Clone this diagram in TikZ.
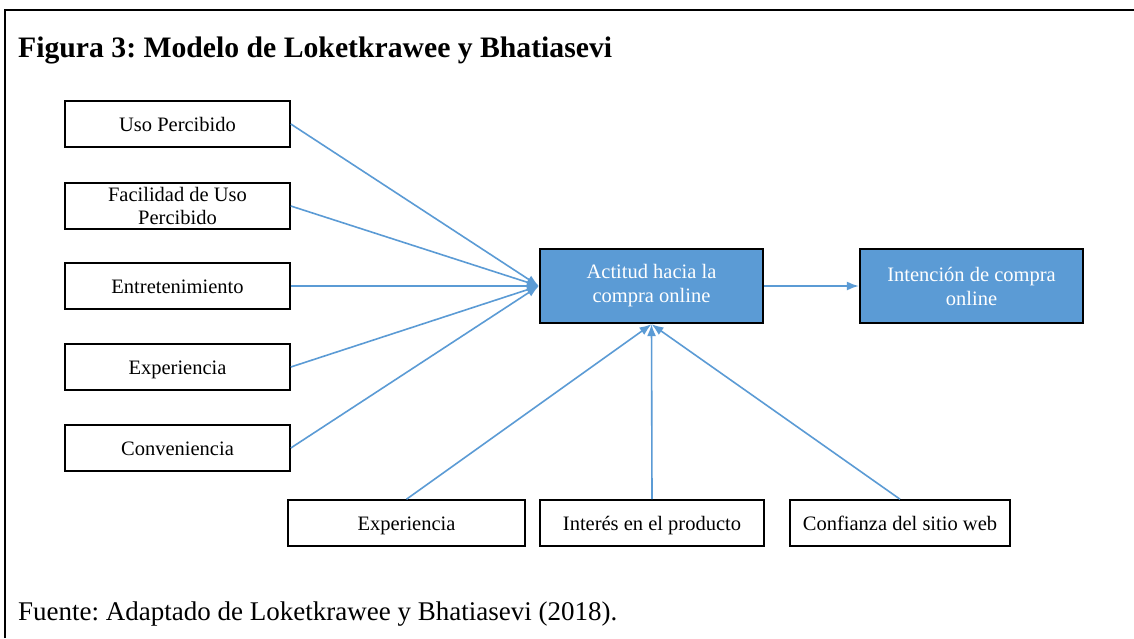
\documentclass[tikz,border=0pt]{standalone}
\usepackage{fontspec}
\setmainfont{Liberation Serif}
\usetikzlibrary{arrows.meta}
\definecolor{modelblue}{HTML}{5B9BD5}
\frenchspacing
\begin{document}
\begin{tikzpicture}[x=1pt,y=-1pt,
  factor/.style={draw=black,line width=1.6pt,fill=white,align=center,
    minimum width=225pt,minimum height=46pt,inner sep=0pt,
    font=\fontsize{20.5}{23}\selectfont},
  oneline/.style={text height=16.5pt,text depth=2.5pt},
  core/.style={draw=black,line width=2.4pt,fill=modelblue,text=white,align=center,
    minimum width=223pt,minimum height=74pt,inner sep=0pt,
    font=\fontsize{20.5}{24}\selectfont},
  link/.style={draw=modelblue,line width=1.6pt,
    -{Latex[length=12pt,width=9pt]}}]
\useasboundingbox (0,0) rectangle (1134,638);
\fill[white] (0,0) rectangle (1134,638);

% frame
\draw[line width=2.6pt] (5,638) -- (5,10) -- (1134,10);

% heading and source line
\node[anchor=base west,inner sep=0pt,font=\fontsize{29.7}{32}\selectfont\bfseries]
  (title) at (18,57) {Figura 3: Modelo de Loketkrawee y Bhatiasevi};
\node[anchor=base west,inner sep=0pt,font=\fontsize{27}{30}\selectfont]
  (source) at (18,620) {Fuente: Adaptado de Loketkrawee y Bhatiasevi (2018).};

% left-hand factors
\node[factor,oneline] (uso)   at (177.5,124) {Uso Percibido};
\node[factor]         (facil) at (177.5,206) {Facilidad de Uso\\Percibido};
\node[factor,oneline] (entre) at (177.5,286) {Entretenimiento};
\node[factor,oneline] (expa)  at (177.5,367) {Experiencia};
\node[factor,oneline] (conv)  at (177.5,448) {Conveniencia};

% central constructs
\node[core] (actitud)   at (651.5,286) {Actitud hacia la\\compra online};
\node[core] (intencion) at (971.5,286) {Intención de compra\\online};

% bottom factors
\node[factor,oneline,minimum width=237pt] (expb)  at (406.5,523) {Experiencia};
\node[factor,oneline,minimum width=224pt] (inter) at (652,523) {Interés en el producto};
\node[factor,oneline,minimum width=220pt] (conf)  at (900,523) {Confianza del sitio web};

% connectors
\foreach \src in {uso,facil,entre,expa,conv}
  \draw[link] (\src.east) -- (actitud.west);
\foreach \src in {expb,inter,conf}
  \draw[link] (\src.north) -- (actitud.south);
\draw[link] (actitud.east) -- (intencion.west);
\end{tikzpicture}
\end{document}
